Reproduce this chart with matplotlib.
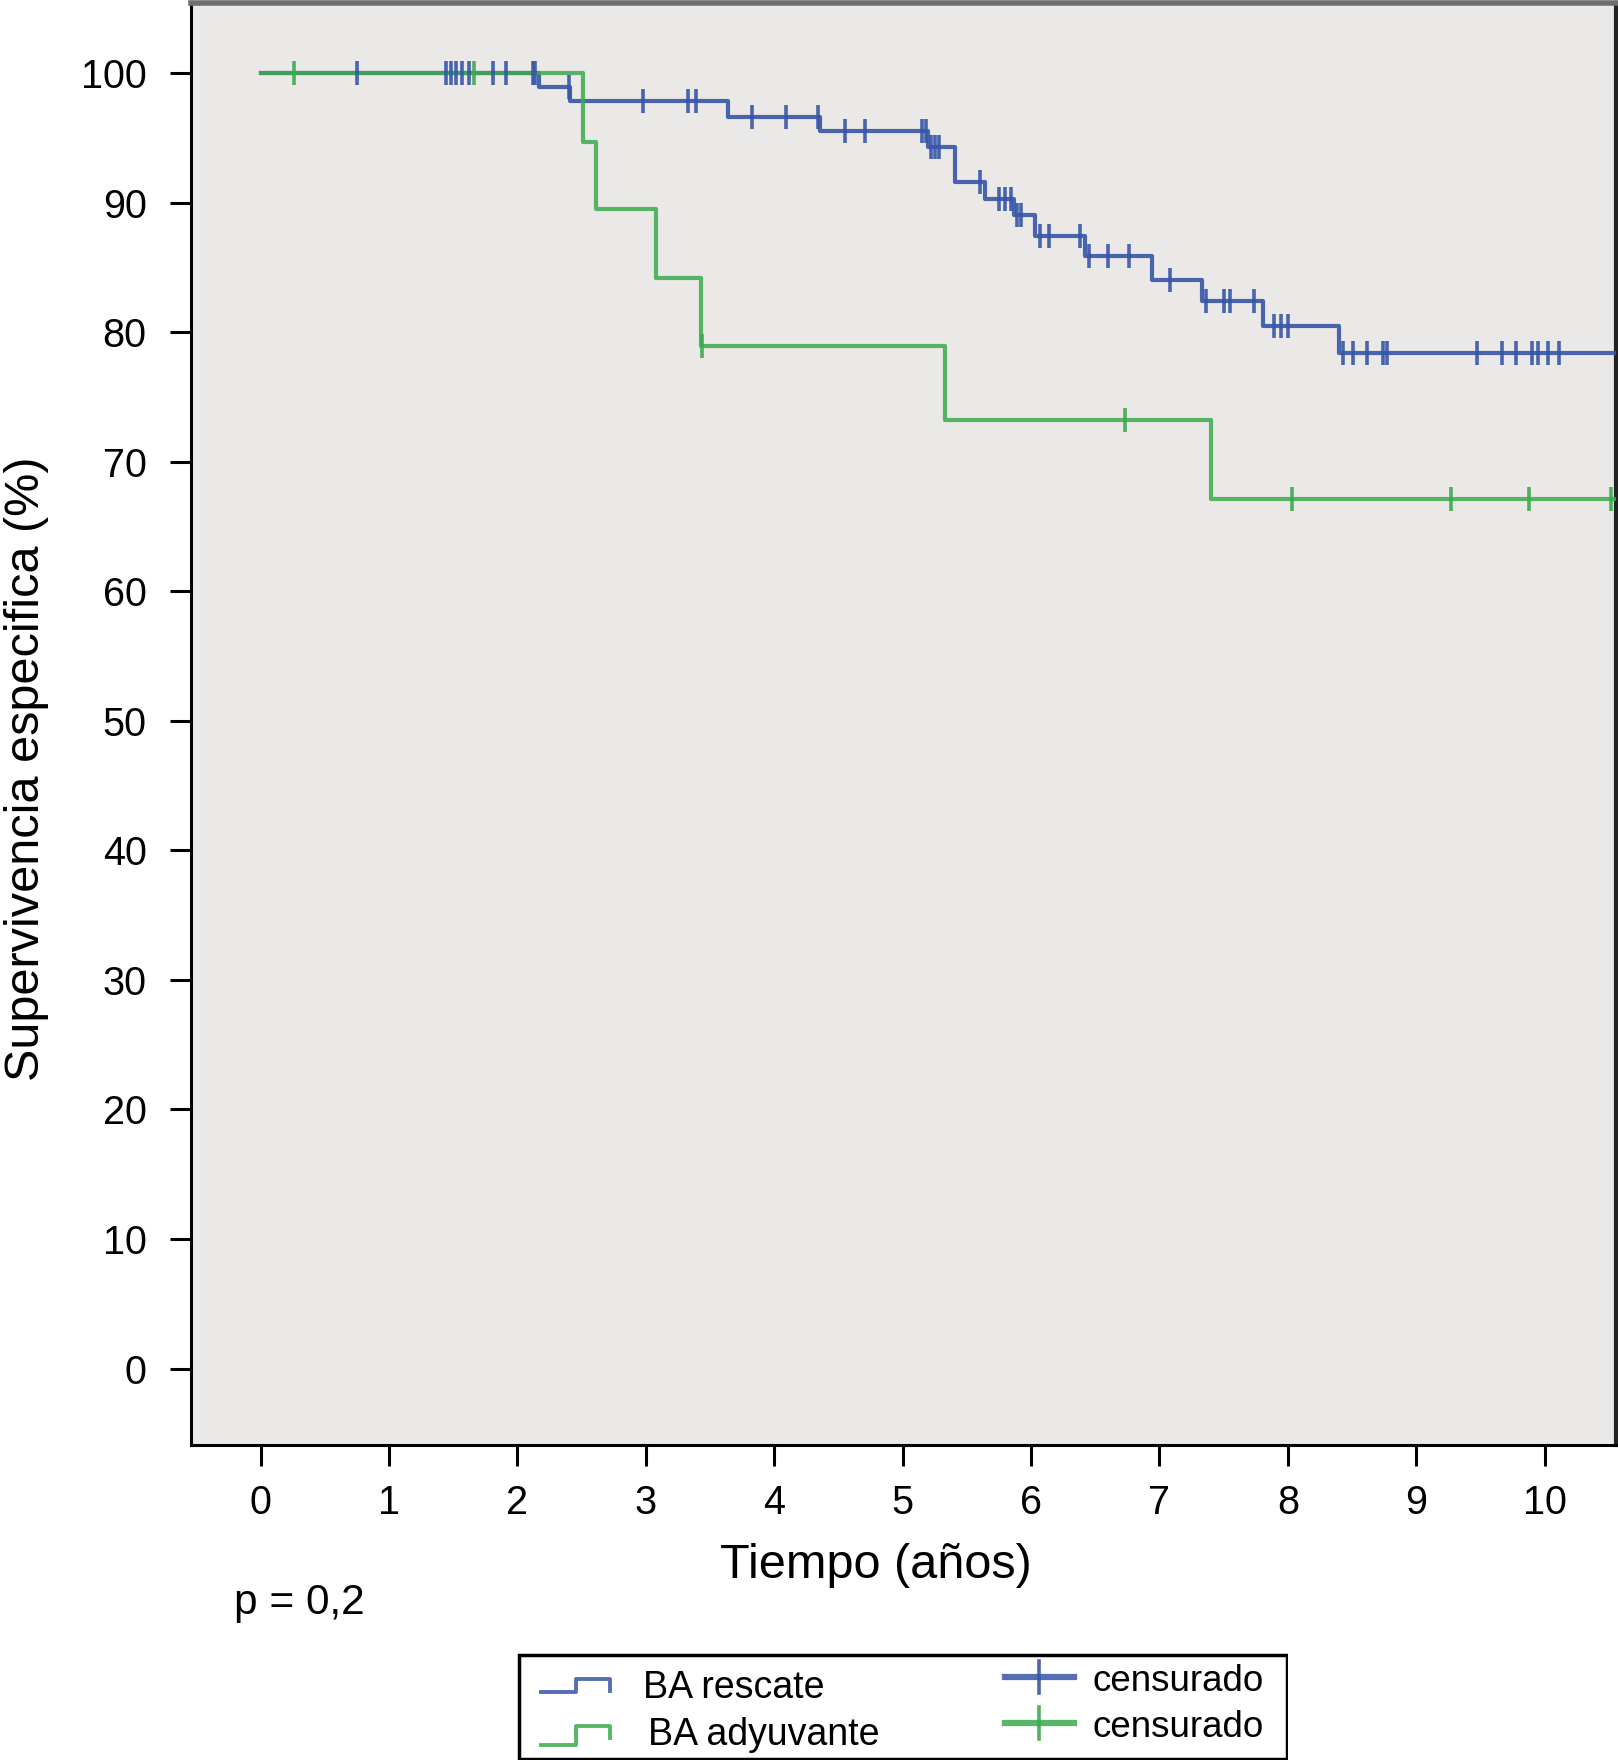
import numpy as np
import matplotlib
matplotlib.use("Agg")
import matplotlib.pyplot as plt
from matplotlib.patches import Rectangle

plt.rcParams['font.family'] = ['Liberation Sans', 'DejaVu Sans']

# Curvas de Kaplan-Meier (tiempo en años, supervivencia en %)
t_rescate = [0, 2.17, 2.41, 3.64, 4.36, 5.20, 5.41, 5.64, 5.87, 6.03, 6.42, 6.94, 7.33, 7.81, 8.40, 10.6]
s_rescate = [100, 98.9, 97.8, 96.6, 95.5, 94.3, 91.6, 90.3, 89.0, 87.4, 85.9, 84.05, 82.4, 80.5, 78.4, 78.4]
cens_rescate = [0.75, 1.44, 1.48, 1.52, 1.57, 1.62, 1.81, 1.91, 2.12, 2.14, 2.40, 2.98, 3.33, 3.39,
                3.83, 4.09, 4.34, 4.55, 4.71, 5.15, 5.18, 5.22, 5.25, 5.28, 5.60, 5.75, 5.80, 5.84,
                5.89, 5.92, 6.07, 6.14, 6.38, 6.45, 6.60, 6.76, 7.08, 7.36, 7.50, 7.55, 7.74, 7.89,
                7.95, 8.00, 8.43, 8.51, 8.62, 8.74, 8.77, 9.47, 9.67, 9.78, 9.90, 9.95, 10.03, 10.11]

t_adyuvante = [0, 2.51, 2.61, 3.08, 3.43, 5.33, 7.40, 10.6]
s_adyuvante = [100, 94.7, 89.5, 84.2, 78.9, 73.2, 67.1, 67.1]
cens_adyuvante = [0.26, 1.66, 3.44, 6.73, 8.03, 9.27, 9.88, 10.52]

x_ticks = list(range(0, 11))
y_ticks = list(range(0, 101, 10))

azul = '#3656a8'
verde = '#3aab4c'


def nivel(t_cens, t, s):
    idx = np.searchsorted(np.array(t), np.array(t_cens), side='right') - 1
    return np.array(s)[idx]


fig = plt.figure(figsize=(16.18, 17.60), dpi=100)
ax = fig.add_axes([191 / 1618, 1 - 1445 / 1760, (1616 - 191) / 1618, (1445 - 3) / 1760])
ax.set_facecolor('#ebe9e7')

ax.step(t_rescate, s_rescate, where='post', color=azul, lw=3.0, alpha=0.9, zorder=3)
ax.step(t_adyuvante, s_adyuvante, where='post', color=verde, lw=3.0, alpha=0.85, zorder=4)
ax.plot(cens_rescate, nivel(cens_rescate, t_rescate, s_rescate), ls='none', marker='|',
        ms=17, mew=2.6, color=azul, alpha=0.9, zorder=5)
ax.plot(cens_adyuvante, nivel(cens_adyuvante, t_adyuvante, s_adyuvante), ls='none', marker='|',
        ms=17, mew=2.6, color=verde, alpha=0.9, zorder=5)

ax.set_xlim(-0.543, 10.556)
ax.set_ylim(-5.9, 105.4)
ax.set_xticks(x_ticks)
ax.set_yticks(y_ticks)
ax.tick_params(axis='both', direction='out', length=15, width=2.2, labelsize=28.5, color='black')
ax.tick_params(axis='x', pad=13)
ax.tick_params(axis='y', pad=17)

for lado in ['left', 'bottom']:
    ax.spines[lado].set_linewidth(2.2)
    ax.spines[lado].set_color('black')
ax.spines['top'].set_linewidth(4)
ax.spines['top'].set_color('#6e6e6e')
ax.spines['right'].set_linewidth(3)
ax.spines['right'].set_color('#222222')

fig.text(27 / 1618, 1 - 769 / 1760, 'Supervivencia especifica (%)', rotation=90,
         ha='center', va='center', fontsize=35)
fig.text(876 / 1618, 1 - 1565 / 1760, 'Tiempo (años)', ha='center', va='center', fontsize=35)
fig.text(234 / 1618, 1 - 1603 / 1760, 'p = 0,2', ha='left', va='center', fontsize=30.5)

# Leyenda dibujada a mano
lx0, lx1, ly0, ly1 = 517, 1288, 1653, 1760
lg = fig.add_axes([lx0 / 1618, 1 - ly1 / 1760, (lx1 - lx0) / 1618, (ly1 - ly0) / 1760])
lg.set_xlim(lx0, lx1)
lg.set_ylim(ly1, ly0)
lg.axis('off')
lg.add_patch(Rectangle((lx0 + 1.5, ly0 + 1.5), lx1 - lx0 - 3, ly1 - ly0 - 3, fill=False,
                       lw=2.5, ec='black', zorder=1))

iconos = [(azul, 1692, 1679, 1691, 'BA rescate', 643, 1688),
          (verde, 1745, 1726, 1738, 'BA adyuvante', 648, 1735)]
for color, y_bajo, y_alto, y_fin, texto, tx, ty in iconos:
    lg.plot([541, 576, 576, 610, 610], [y_bajo, y_bajo, y_alto, y_alto, y_fin],
            color=color, lw=2.8, alpha=0.85)
    lg.text(tx, ty, texto, fontsize=27, va='center', ha='left')

for color, yc in [(azul, 1677), (verde, 1723)]:
    lg.plot([1005, 1074], [yc, yc], color=color, lw=4.5, alpha=0.85)
    lg.plot([1039, 1039], [yc - 16, yc + 16], color=color, lw=2.6, alpha=0.9)
    lg.text(1092, yc + 4, 'censurado', fontsize=26.5, va='center', ha='left')

fig.savefig('out.png', dpi=100, facecolor='white')
